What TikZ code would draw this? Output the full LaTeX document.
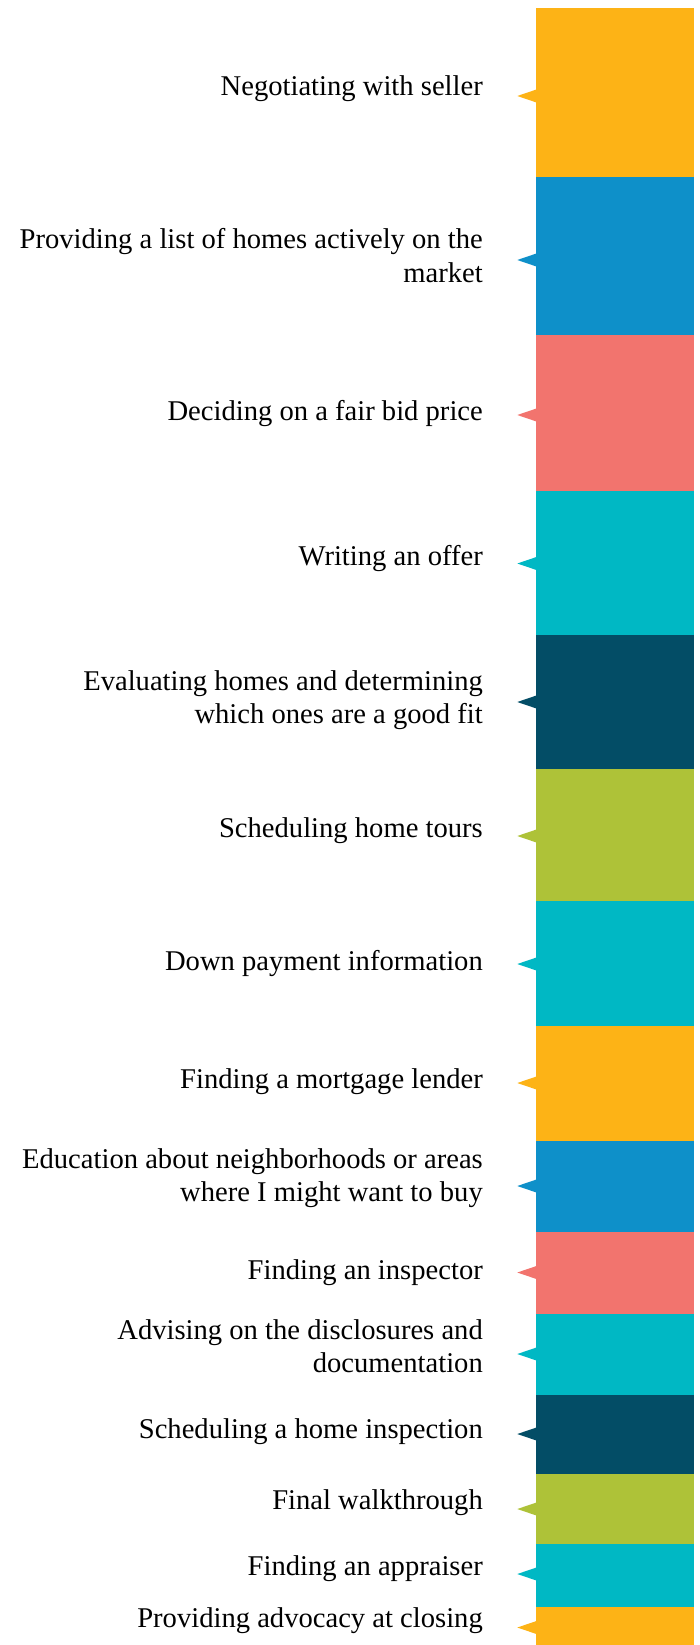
\documentclass[tikz,border=0pt]{standalone}
\usepackage{fontspec}
\setmainfont{Liberation Serif}

\definecolor{tabyellow}{HTML}{FDB316}
\definecolor{tabblue}{HTML}{0E90C9}
\definecolor{tabsalmon}{HTML}{F2746E}
\definecolor{tabcyan}{HTML}{00B8C4}
\definecolor{tabnavy}{HTML}{034D66}
\definecolor{tabgreen}{HTML}{AEC238}

\tikzset{
  lbl/.style={anchor=base east, align=right, inner sep=0pt,
    font=\fontsize{28.6}{33}\selectfont},
}

\begin{document}
\begin{tikzpicture}[x=1pt, y=-1pt]
    % Bar geometry
    \def\barL{536} % left edge of the bar
    \def\barR{694} % right edge of the bar
    \def\tipx{517.3} % tip of each pointer
    \def\txtx{483} % right edge of the labels

    \useasboundingbox (0,0) rectangle (699,1645);

    % Coloured bands, their pointers and labels (\ty = baseline of last line)
    \foreach \n/\ya/\yb/\col/\py/\ty/\txt in {
        1/8/177/tabyellow/96/96/{Negotiating with seller},
        2/177/335/tabblue/260/282/{Providing a list of homes actively on the\\market},
        3/335/491/tabsalmon/415/420/{Deciding on a fair bid price},
        4/491/635/tabcyan/563.5/565/{Writing an offer},
        5/635/769/tabnavy/702/723/{Evaluating homes and determining\\which ones are a good fit},
        6/769/901/tabgreen/836/837/{Scheduling home tours},
        7/901/1026/tabcyan/964/970/{Down payment information},
        8/1026/1141/tabyellow/1083/1088/{Finding a mortgage lender},
        9/1141/1232/tabblue/1186/1201.5/{Education about neighborhoods or areas\\where I might want to buy},
        10/1232/1314/tabsalmon/1272.5/1279/{Finding an inspector},
        11/1314/1395/tabcyan/1354/1372.5/{Advising on the disclosures and\\documentation},
        12/1395/1474/tabnavy/1434/1438/{Scheduling a home inspection},
        13/1474/1544/tabgreen/1509/1509.5/{Final walkthrough},
        14/1544/1607/tabcyan/1574/1575/{Finding an appraiser},
        15/1607/1645/tabyellow/1627.5/1627/{Providing advocacy at closing}}{
        \fill[\col] (\barL,\ya) rectangle (\barR,\yb);
        \fill[\col] (\tipx,\py) -- (\barL+1,{\py-6.7}) -- (\barL+1,{\py+6.7}) -- cycle;
        \node[lbl] (lbl\n) at (\txtx,\ty) {\txt};
    }
\end{tikzpicture}
\end{document}
